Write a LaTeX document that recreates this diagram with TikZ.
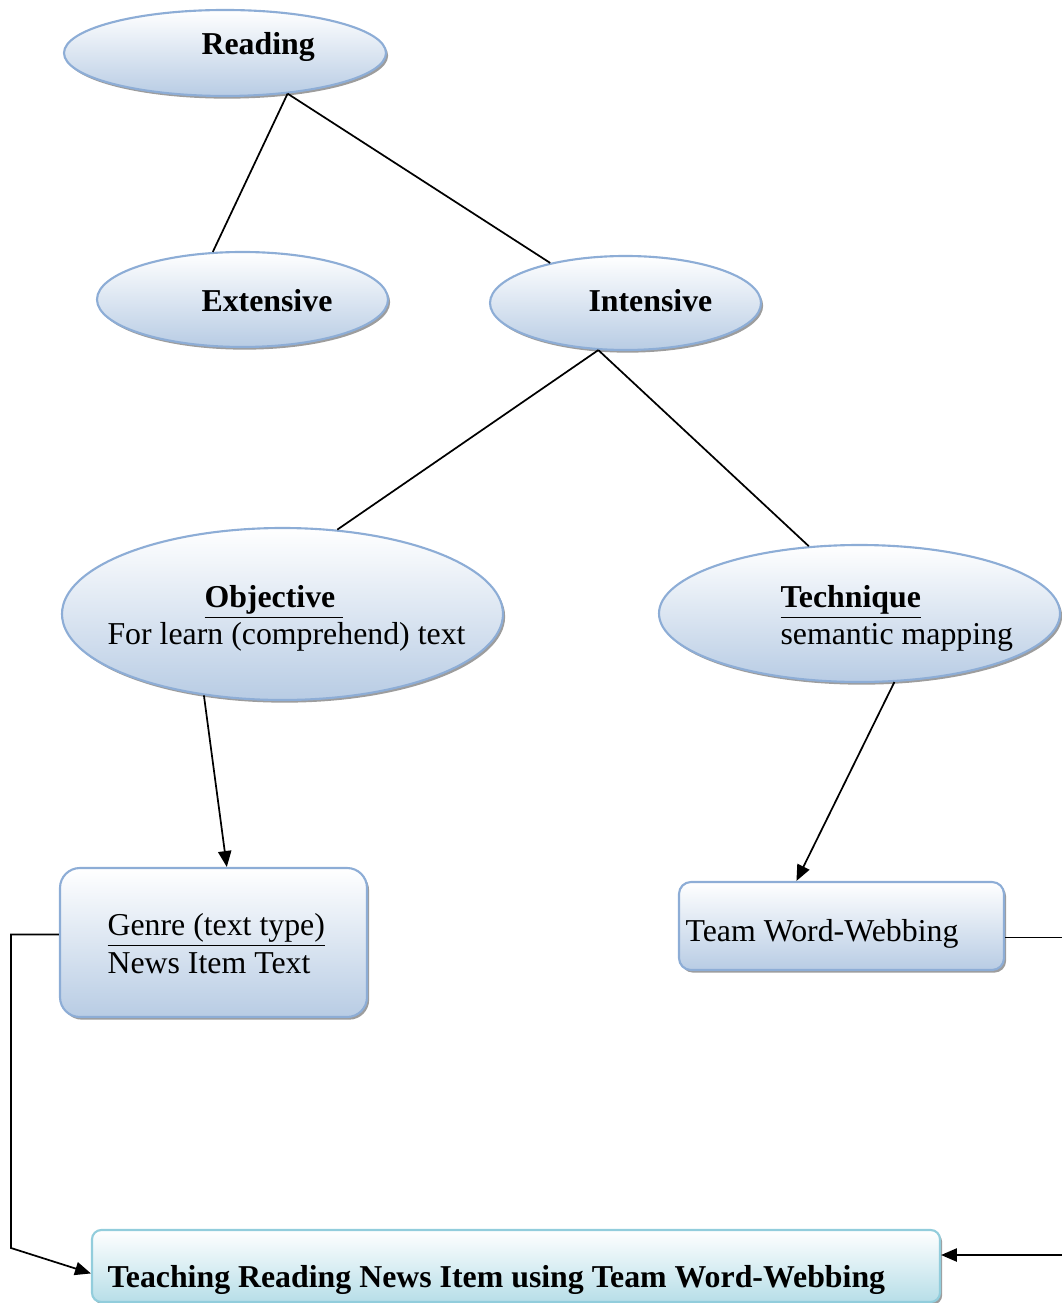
\documentclass[tikz,border=0pt]{standalone}
\usepackage{fontspec}
\setmainfont{Liberation Serif}
\usetikzlibrary{shapes.geometric,shadows,arrows.meta}
\definecolor{ovalline}{RGB}{141,173,214}
\definecolor{ovalfill}{RGB}{184,204,228}
\definecolor{aqualine}{RGB}{146,205,220}
\definecolor{aquafill}{RGB}{183,222,232}
\newcommand{\pu}{0.377pt}

\begin{document}
\begin{tikzpicture}[x=0.377pt, y=-0.377pt,
    oval/.style={ellipse, draw=ovalline, line width=0.8pt, top color=white, bottom color=ovalfill, inner sep=0pt,
      drop shadow={shadow xshift=0.8pt, shadow yshift=-1pt, fill=black!55, opacity=0.7}},
    card/.style={rectangle, draw=ovalline, line width=0.8pt, top color=white, bottom color=ovalfill, inner sep=0pt,
      drop shadow={shadow xshift=0.8pt, shadow yshift=-1pt, fill=black!55, opacity=0.7}},
    plaintxt/.style={anchor=base west, inner sep=0pt, font=\fontsize{12}{14}\selectfont},
    boldtxt/.style={plaintxt, font=\fontsize{12}{14}\selectfont\bfseries},
    link/.style={line width=0.65pt},
    tip/.style={link, -{Triangle[length=6pt,width=5pt]}}]

    \useasboundingbox (0,0) rectangle (1061,1303);

    % Draw the ovals
    \node[oval, minimum width=322*\pu, minimum height=86*\pu] (reading) at (225,53) {};
    \node[oval, minimum width=291*\pu, minimum height=95*\pu] (extensive) at (242.5,299.5) {};
    \node[oval, minimum width=271*\pu, minimum height=94*\pu] (intensive) at (625.5,303) {};
    \node[oval, minimum width=441*\pu, minimum height=172*\pu] (objective) at (282.5,614) {};
    \node[oval, minimum width=401*\pu, minimum height=137*\pu] (technique) at (859.5,613.5) {};

    % Draw the boxes
    \node[card, rounded corners=7.5pt, minimum width=307*\pu, minimum height=149*\pu] (genre) at (213.5,942.5) {};
    \node[card, rounded corners=4.5pt, minimum width=325*\pu, minimum height=88*\pu] (team) at (841.5,926) {};
    \node[card, draw=aqualine, bottom color=aquafill, rounded corners=3.5pt,
      minimum width=848*\pu, minimum height=72*\pu] (final) at (516,1266) {};

    % Label the ovals
    \node[boldtxt] (readingtxt) at (201,55) {Reading};
    \node[boldtxt] (extensivetxt) at (201,312) {Extensive};
    \node[boldtxt] (intensivetxt) at (588,312) {Intensive};
    \node[boldtxt] (objectivetxt) at (204,607) {\underline{Objective\ }};
    \node[plaintxt] (objectivesub) at (107,644) {For learn (comprehend) text};
    \node[boldtxt] (techniquetxt) at (780,607) {\underline{Technique}};
    \node[plaintxt] (techniquesub) at (780,644) {semantic mapping};

    % Label the boxes
    \node[plaintxt] (genretxt) at (107,935) {\underline{Genre (text type)}};
    \node[plaintxt] (genresub) at (107,973) {News Item Text};
    \node[plaintxt] (teamtxt) at (685,941) {Team Word-Webbing};
    \node[boldtxt] (finaltxt) at (107,1287) {Teaching Reading News Item using Team Word-Webbing};

    % Tree lines
    \draw[link] (reading.-33) -- (extensive.122);
    \draw[link] (reading.-33) -- (intensive.152);
    \draw[link] (intensive.240) -- (objective.57);
    \draw[link] (intensive.240) -- (technique.127);

    % Arrows down to the boxes
    \draw[tip] (objective.226) -- (genre.80);
    \draw[tip] (technique.-63) -- (team.135);

    % Arrows round to the last box
    \coordinate (lfoot) at (11,1248);
    \coordinate (rfoot) at (1075,1255);
    \draw[tip] (genre.177) -| (lfoot) -- (final.181);
    \draw[tip] (team.-4) -| (rfoot) -- (final.east |- rfoot);

\end{tikzpicture}
\end{document}
